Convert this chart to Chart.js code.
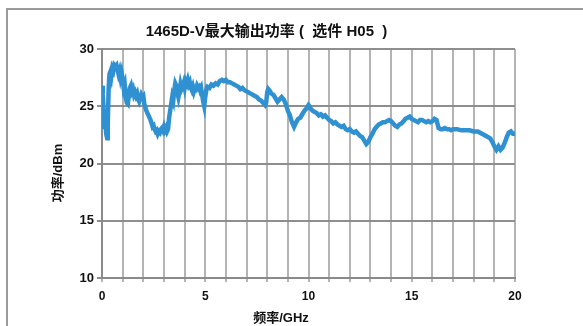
<!DOCTYPE html>
<html>
<head>
<meta charset="utf-8">
<script src="https://cdn.jsdelivr.net/npm/chart.js@4/dist/chart.umd.min.js"></script>
<style>
  html, body { margin: 0; padding: 0; background: #fff; }
  #wrap { position: relative; width: 583px; height: 326px; overflow: hidden; }
  #frame { position: absolute; left: 6px; top: 8px; width: 580px; height: 330px;
           border: 2px solid #9a9a9a; box-sizing: border-box; }
  canvas { position: absolute; left: 0; top: 0; }
</style>
</head>
<body>
<div id="wrap">
  <div id="frame"></div>
  <canvas id="c" width="583" height="326"></canvas>
</div>
<script>
// Maximum output power of the 1465D-V (option H05) across 0–20 GHz
const titleText = '1465D-V最大输出功率 (  选件 H05  )';
const xTitle = '频率/GHz';
const yTitle = '功率/dBm';

const freqGHz = [
  0.00,0.04,0.08,0.12,0.16,0.20,0.25,0.28,0.32,0.36,0.40,0.45,0.50,0.55,0.60,0.65,0.70,0.75,0.80,0.85,
  0.90,0.95,1.00,1.05,1.10,1.15,1.20,1.25,1.30,1.35,1.40,1.45,1.50,1.55,1.60,1.65,1.70,1.75,1.80,1.85,
  1.90,1.95,2.00,2.05,2.10,2.15,2.20,2.25,2.30,2.35,2.40,2.45,2.50,2.55,2.60,2.65,2.70,2.75,2.80,2.85,
  2.90,2.95,3.00,3.05,3.10,3.15,3.20,3.25,3.30,3.35,3.40,3.45,3.50,3.55,3.60,3.65,3.70,3.75,3.80,3.85,
  3.90,3.95,4.00,4.05,4.10,4.15,4.20,4.25,4.30,4.35,4.40,4.45,4.50,4.55,4.60,4.65,4.70,4.75,4.80,4.85,
  4.90,4.95,5.00,5.05,5.10,5.20,5.30,5.40,5.50,5.60,5.70,5.80,5.90,6.00,6.10,6.20,6.30,6.40,6.50,6.60,
  6.70,6.80,6.90,7.00,7.10,7.20,7.30,7.40,7.50,7.60,7.70,7.80,7.90,7.95,8.00,8.05,8.10,8.20,8.30,8.40,
  8.50,8.60,8.70,8.80,8.90,9.00,9.10,9.20,9.30,9.40,9.50,9.60,9.70,9.80,9.90,10.00,10.05,10.10,10.20,10.30,
  10.40,10.50,10.60,10.70,10.80,10.90,11.00,11.10,11.20,11.30,11.40,11.50,11.60,11.70,11.80,11.90,12.00,12.10,12.20,12.30,
  12.40,12.50,12.60,12.70,12.80,12.90,13.00,13.10,13.20,13.30,13.40,13.50,13.60,13.70,13.80,13.90,14.00,14.10,14.20,14.30,
  14.40,14.50,14.60,14.70,14.80,14.90,15.00,15.10,15.20,15.30,15.40,15.50,15.60,15.70,15.80,15.90,16.00,16.10,16.20,16.30,
  16.40,16.50,16.60,16.70,16.80,16.90,17.00,17.20,17.40,17.60,17.80,18.00,18.20,18.40,18.60,18.80,18.90,19.00,19.10,19.20,
  19.30,19.40,19.50,19.60,19.70,19.80,19.90,20.00
];

const powerDbm = [
  26.8,26.0,24.5,23.0,24.2,22.6,22.2,23.5,26.5,27.8,28.0,27.6,28.3,28.1,28.6,28.5,28.6,28.2,27.8,28.1,
  27.5,27.9,27.4,26.6,26.9,25.8,25.3,25.2,26.0,26.6,26.8,26.3,26.5,26.0,26.2,25.9,26.1,25.6,25.4,25.7,
  26.0,25.8,25.9,25.2,24.9,24.6,24.4,24.2,24.0,23.8,23.5,23.2,23.3,23.0,22.8,22.9,22.6,22.8,22.7,23.0,
  23.1,22.9,23.2,22.9,23.1,22.8,23.0,24.0,24.6,25.2,25.8,25.5,26.4,27.0,26.8,26.2,25.8,26.3,26.9,26.5,
  26.7,27.0,26.6,27.2,27.0,27.3,26.9,27.1,26.6,26.4,26.7,26.3,26.6,26.5,26.8,26.6,26.7,26.4,26.6,26.0,
  25.4,25.0,25.8,26.4,26.7,26.6,26.9,26.8,27.0,26.9,27.2,27.3,27.2,27.3,27.1,27.1,27.0,26.9,26.8,26.7,
  26.5,26.6,26.4,26.3,26.2,26.1,26.0,25.9,25.8,25.6,25.5,25.3,25.1,25.3,26.2,26.5,26.4,26.1,26.0,25.7,
  25.4,25.6,25.8,25.6,25.2,24.6,24.2,23.6,23.2,23.6,23.9,24.0,24.3,24.6,24.8,25.1,25.0,24.8,24.6,24.5,
  24.4,24.2,24.3,24.1,24.2,24.0,23.8,23.7,23.5,23.6,23.4,23.3,23.2,23.3,23.0,22.9,23.0,22.8,22.7,22.8,
  22.6,22.4,22.3,22.0,21.7,21.9,22.3,22.6,23.0,23.2,23.4,23.5,23.6,23.6,23.7,23.8,23.7,23.5,23.3,23.2,
  23.4,23.5,23.7,23.9,24.0,24.1,23.9,23.8,23.7,23.6,23.8,23.8,23.7,23.6,23.7,23.6,23.7,23.9,23.8,23.1,
  23.0,23.0,23.1,23.0,23.0,22.9,23.0,23.0,22.9,22.9,22.9,22.8,22.8,22.6,22.4,22.2,21.9,21.5,21.2,21.5,
  21.2,21.4,21.8,22.3,22.7,22.8,22.6,22.6
];

const xTickLabels = [0, 5, 10, 15, 20];
const yTickLabels = [10, 15, 20, 25, 30];

const points = freqGHz.map((f, i) => ({ x: f, y: powerDbm[i] }));

const fontFamily = '"Liberation Sans", Arial, "Noto Sans CJK SC", sans-serif';

// Axis captions, placed a little off the plot centre
const axisCaptions = {
  id: 'axisCaptions',
  afterDraw(chart) {
    const { ctx, chartArea } = chart;
    ctx.save();
    ctx.fillStyle = '#111';
    ctx.font = 'bold 13px ' + fontFamily;
    ctx.textAlign = 'center';
    ctx.textBaseline = 'middle';
    ctx.fillText(xTitle, chartArea.left + 179, 318);
    ctx.translate(58, chartArea.top + 124);
    ctx.rotate(-Math.PI / 2);
    ctx.fillText(yTitle, 0, 0);
    ctx.restore();
  }
};

new Chart(document.getElementById('c'), {
  type: 'line',
  data: {
    datasets: [{
      data: points,
      borderColor: '#2f91d2',
      borderWidth: 4.5,
      pointRadius: 0,
      tension: 0,
      fill: false
    }]
  },
  plugins: [axisCaptions],
  options: {
    responsive: false,
    animation: false,
    layout: { padding: { left: 18, right: 68, top: 0, bottom: 0 } },
    plugins: {
      legend: { display: false },
      tooltip: { enabled: false },
      title: {
        display: true,
        text: titleText,
        color: '#111',
        font: { family: fontFamily, size: 15, weight: 'bold' },
        padding: { top: 23, bottom: 8 }
      }
    },
    scales: {
      x: {
        type: 'linear',
        min: 0, max: 20,
        afterFit: (s) => { s.height = 48; },
        ticks: {
          stepSize: 1,
          autoSkip: false,
          maxRotation: 0,
          color: '#111',
          padding: 7,
          font: { family: fontFamily, size: 12, weight: 'bold' },
          callback: (v) => xTickLabels.includes(v) ? String(v) : ''
        },
        grid: { color: '#b4b4b4', lineWidth: 2, tickLength: 4, drawTicks: true },
        border: { color: '#8a8a8a', width: 2 }
      },
      y: {
        min: 10, max: 30,
        afterFit: (s) => { s.width = 84; },
        ticks: {
          stepSize: 5,
          color: '#111',
          padding: 3,
          font: { family: fontFamily, size: 13, weight: 'bold' },
          callback: (v) => yTickLabels.includes(v) ? String(v) : ''
        },
        grid: { color: '#8e8e8e', lineWidth: 2, tickLength: 5 },
        border: { color: '#8a8a8a', width: 2 }
      }
    }
  }
});
</script>
</body>
</html>
